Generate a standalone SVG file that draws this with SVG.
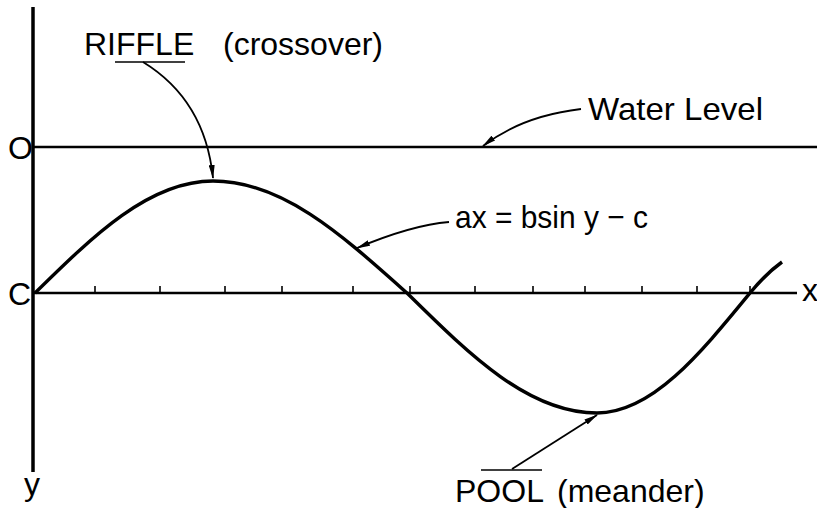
<svg xmlns="http://www.w3.org/2000/svg" width="817" height="508" viewBox="0 0 817 508">
<style>
.lbl{font-family:"Liberation Sans",Arial,sans-serif;font-size:32px;fill:#000}
.ax{stroke:#000;fill:none;stroke-linecap:butt}
.tick{stroke:#000;stroke-width:1.6}
.lead{stroke:#000;stroke-width:1.8;fill:none}
.bar{stroke:#000;stroke-width:1.6}
</style>
<defs>
<marker id="ah" viewBox="0 0 14 6" refX="13" refY="3" markerWidth="14" markerHeight="6" markerUnits="userSpaceOnUse" orient="auto">
<path d="M0,0 L14,3 L0,6 Z" fill="#000"/>
</marker>
</defs>
<rect width="817" height="508" fill="#fff"/>
<g id="axes">
<line class="ax" x1="33" y1="7" x2="33" y2="472" stroke-width="3.5"/>
<line class="ax" x1="33" y1="147" x2="817" y2="147" stroke-width="2.6"/>
<line class="ax" x1="33" y1="293" x2="797" y2="293" stroke-width="2.6"/>
<g id="ticks">
<line class="tick" x1="95" y1="293" x2="95" y2="286"/>
<line class="tick" x1="160" y1="293" x2="160" y2="286"/>
<line class="tick" x1="225" y1="293" x2="225" y2="286"/>
<line class="tick" x1="282" y1="293" x2="282" y2="286"/>
<line class="tick" x1="353" y1="293" x2="353" y2="286"/>
<line class="tick" x1="410" y1="293" x2="410" y2="286"/>
<line class="tick" x1="475" y1="293" x2="475" y2="286"/>
<line class="tick" x1="533" y1="293" x2="533" y2="286"/>
<line class="tick" x1="585" y1="293" x2="585" y2="286"/>
<line class="tick" x1="642" y1="293" x2="642" y2="286"/>
<line class="tick" x1="697" y1="293" x2="697" y2="286"/>
<line class="tick" x1="750" y1="293" x2="750" y2="286"/>
</g>
<text class="lbl" x="8" y="158.5">O</text>
<text class="lbl" x="8" y="304.5">C</text>
<text class="lbl" x="24" y="495">y</text>
<text class="lbl" x="802" y="301">x</text>
</g>
<g id="bed-profile">
<path d="M35,293 C93,236 149,181 213,181 C283,181 343,236 407,293 C469,354 528,413 597,413 C652,413 700,354 750,293 Q766,273.5 782,262" fill="none" stroke="#000" stroke-width="3.4"/>
</g>
<g id="riffle">
<text class="lbl" y="55"><tspan x="84">RIFFLE</tspan><tspan x="223">(crossover)</tspan></text>
<line class="bar" x1="115" y1="62" x2="185" y2="62"/>
</g>
<g id="water-level">
<text class="lbl" x="588" y="120" textLength="175" lengthAdjust="spacingAndGlyphs">Water Level</text>
</g>
<g id="equation">
<text class="lbl" x="455" y="228" textLength="193" lengthAdjust="spacingAndGlyphs">ax = bsin y − c</text>
</g>
<g id="pool">
<text class="lbl" y="502"><tspan x="455">POOL</tspan><tspan x="557">(meander)</tspan></text>
<line class="bar" x1="481" y1="470" x2="542" y2="470"/>
</g>
<g id="connectors">
<path class="lead" d="M143,62 Q205,100 213,178" marker-end="url(#ah)"/>
<path class="lead" d="M581,109 Q522,116 483,146" marker-end="url(#ah)"/>
<path class="lead" d="M449,222 Q412,225 357,248" marker-end="url(#ah)"/>
<path class="lead" d="M512,469 L597,415" marker-end="url(#ah)"/>
</g>
</svg>
